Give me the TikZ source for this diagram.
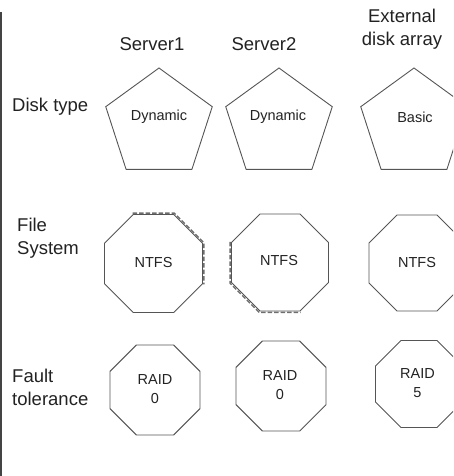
\documentclass[tikz,border=0pt]{standalone}
\usepackage{fontspec}
\setmainfont{Liberation Sans}
\usetikzlibrary{shapes.geometric,calc}
\definecolor{ln}{HTML}{555555}
\definecolor{tx}{HTML}{222222}
\definecolor{dsh}{HTML}{6E6E6E}
\tikzset{
  pent/.style={regular polygon, regular polygon sides=5, draw=ln, line width=0.9pt, inner sep=0pt, minimum size=#1},
  oct/.style={regular polygon, regular polygon sides=8, draw=ln, line width=0.9pt, inner sep=0pt, minimum size=#1},
  head/.style={font=\fontsize{18.5}{22.5}\selectfont, text=tx, inner sep=0pt, align=center},
  rowlab/.style={font=\fontsize{18.5}{23}\selectfont, text=tx, inner sep=0pt, align=left, anchor=west},
  small/.style={font=\fontsize{14.5}{19}\selectfont, text=tx, inner sep=0pt, align=center},
  dashover/.style={draw=dsh, line width=1.4pt, dash pattern=on 4.5pt off 2pt},
}
\begin{document}
\begin{tikzpicture}[x=1pt,y=-1pt]
\useasboundingbox (0,0) rectangle (453,476);
\clip (0,0) rectangle (453,476);
% left bar
\draw[line width=2pt, draw=ln!80!black] (1,12) -- (1,476);
% headings
\node[head] (h1) at (152,44) {Server1};
\node[head] (h2) at (264,44) {Server2};
\node[head] (h3) at (402,29) {External\\disk array};
% row labels
\node[rowlab] (r1) at (12,107) {Disk type};
\node[rowlab] (r2) at (17,238.5) {File\\System};
\node[rowlab] (r3) at (12,387) {Fault\\tolerance};
% pentagons
\node[pent=112pt] (p1) at (159,124) {};
\node[pent=112pt] (p2) at (279,124) {};
\node[pent=112pt] (p3) at (414,124) {};
\node[small] (t1) at (159,117) {Dynamic};
\node[small] (t2) at (278,117) {Dynamic};
\node[small] (t3) at (415,117) {Basic};
% file system octagons
\node[oct=106pt] (f1) at (153.5,263.5) {};
\node[oct=105pt] (f2) at (280,262.5) {};
\node[oct=104pt] (f3) at (417,263) {};
\node[small] (n1) at (153.5,263) {NTFS};
\node[small] (n2) at (279,261) {NTFS};
\node[small] (n3) at (417,263) {NTFS};
\draw[dashover] ($(f1.center)+(-112.5:54.5)$) -- ($(f1.center)+(-67.5:54.5)$) -- ($(f1.center)+(-22.5:54.5)$) -- ($(f1.center)+(22.5:54.5)$);
\draw[dashover] ($(f2.center)+(-157.5:54)$) -- ($(f2.center)+(157.5:54)$) -- ($(f2.center)+(112.5:54)$) -- ($(f2.center)+(67.5:54)$);
% fault tolerance octagons
\node[oct=97.4pt] (g1) at (155,390) {};
\node[oct=97.4pt] (g2) at (281,386) {};
\node[oct=94.2pt] (g3) at (419,384) {};
\node[small] (m1) at (155,389.5) {RAID\\0};
\node[small] (m2) at (280,385) {RAID\\0};
\node[small] (m3) at (417.5,383.5) {RAID\\5};
\end{tikzpicture}
\end{document}
